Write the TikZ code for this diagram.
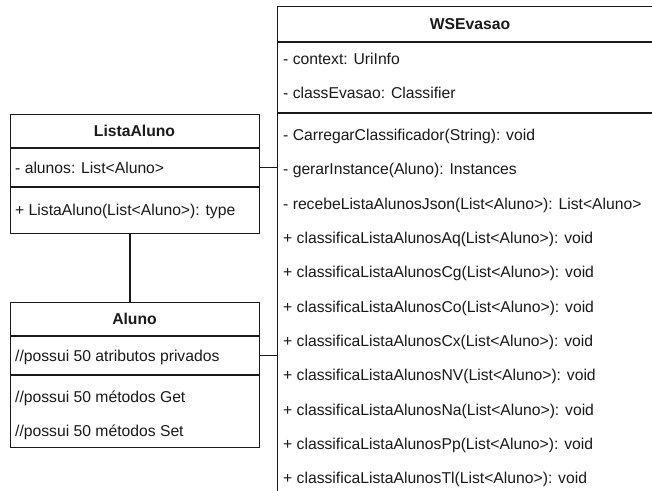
\documentclass[tikz,border=0pt]{standalone}
\usepackage{fontspec}
\setmainfont{Liberation Sans}
\definecolor{txt}{HTML}{1A1A1A}
\definecolor{ln}{HTML}{1A1A1A}
\begin{document}
\begin{tikzpicture}[x=1pt,y=1pt,
  box/.style={draw=ln, line width=1.3pt, fill=white, anchor=north west, inner sep=0pt},
  row/.style={anchor=west, inner sep=0pt, text=txt, font=\fontsize{15.7}{18}\selectfont, text height=11.2pt, text depth=0pt},
  ttl/.style={anchor=center, inner sep=0pt, text=txt, font=\fontsize{15.7}{18}\selectfont\bfseries, text height=11.2pt, text depth=0pt},
  sep/.style={draw=ln, line width=1.3pt},
  conn/.style={draw=ln, line width=1.3pt}]
\useasboundingbox (0,0) rectangle (652,-490);
\clip (0,0) rectangle (652,-490);
\fill[white] (0,0) rectangle (652,-490);

% WSEvasao
\node[box, minimum width=386pt, minimum height=520pt] (ws) at (277,-6) {};
\node[ttl] (wst) at (470,-24) {WSEvasao};
\draw[sep] (ws.west |- 0,-42) -- (ws.east |- 0,-42);
\node[row] (wsa1) at (283,-59) {- context: UriInfo};
\node[row] (wsa2) at (283,-93.3) {- classEvasao: Classifier};
\draw[sep] (ws.west |- 0,-113) -- (ws.east |- 0,-113);
\node[row] (wsm1) at (283,-135) {- CarregarClassificador(String): void};
\node[row] (wsm2) at (283,-169.3) {- gerarInstance(Aluno): Instances};
\node[row] (wsm3) at (283,-203.6) {- recebeListaAlunosJson(List<Aluno>): List<Aluno>};
\node[row] (wsm4) at (283,-237.9) {+ classificaListaAlunosAq(List<Aluno>): void};
\node[row] (wsm5) at (283,-272.2) {+ classificaListaAlunosCg(List<Aluno>): void};
\node[row] (wsm6) at (283,-306.5) {+ classificaListaAlunosCo(List<Aluno>): void};
\node[row] (wsm7) at (283,-340.8) {+ classificaListaAlunosCx(List<Aluno>): void};
\node[row] (wsm8) at (283,-375.1) {+ classificaListaAlunosNV(List<Aluno>): void};
\node[row] (wsm9) at (283,-409.4) {+ classificaListaAlunosNa(List<Aluno>): void};
\node[row] (wsm10) at (283,-443.7) {+ classificaListaAlunosPp(List<Aluno>): void};
\node[row] (wsm11) at (283,-478) {+ classificaListaAlunosTl(List<Aluno>): void};

% ListaAluno
\node[box, minimum width=249pt, minimum height=119pt] (la) at (10,-114) {};
\node[ttl] (lat) at (134.5,-131) {ListaAluno};
\draw[sep] (la.west |- 0,-148) -- (la.east |- 0,-148);
\node[row] (laa1) at (15,-167.5) {- alunos: List<Aluno>};
\draw[sep] (la.west |- 0,-187) -- (la.east |- 0,-187);
\node[row] (lam1) at (15,-210) {+ ListaAluno(List<Aluno>): type};

% Aluno
\node[box, minimum width=249pt, minimum height=145pt] (al) at (10,-302) {};
\node[ttl] (alt) at (134.5,-319) {Aluno};
\draw[sep] (al.west |- 0,-336) -- (al.east |- 0,-336);
\node[row] (ala1) at (15,-355.5) {//possui 50 atributos privados};
\draw[sep] (al.west |- 0,-375) -- (al.east |- 0,-375);
\node[row] (alm1) at (15,-397) {//possui 50 métodos Get};
\node[row] (alm2) at (15,-431) {//possui 50 métodos Set};

% connectors
\draw[conn] (la.south -| 130,0) -- (al.north -| 130,0);
\draw[conn] (la.east |- laa1) -- (ws.west |- laa1);
\draw[conn] (al.east |- ala1) -- (ws.west |- ala1);
\end{tikzpicture}
\end{document}
